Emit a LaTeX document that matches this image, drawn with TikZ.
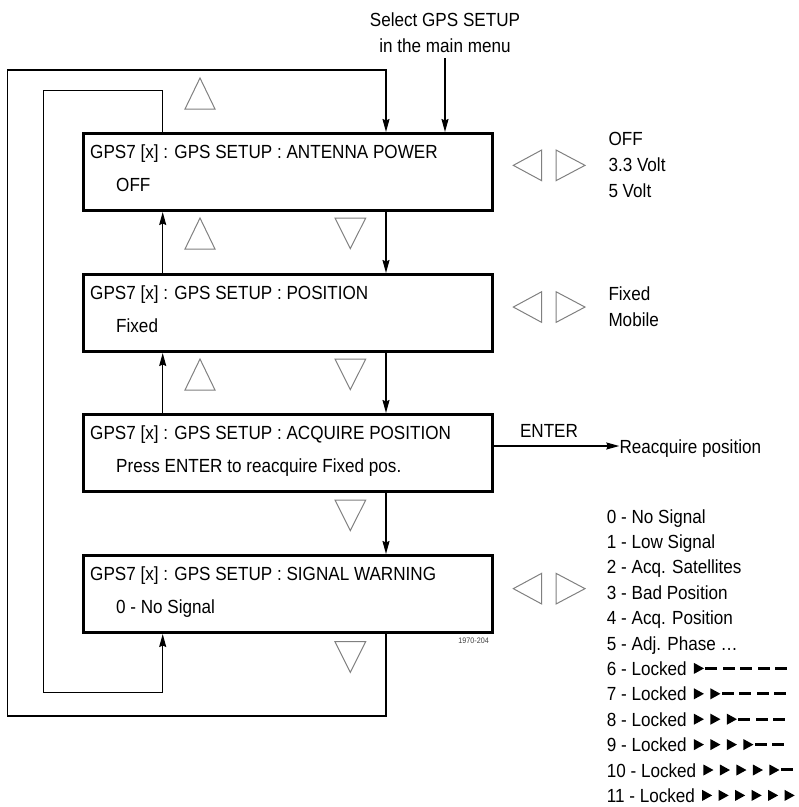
\documentclass[tikz,border=0pt]{standalone}
\usepackage{fontspec}
\setmainfont{Liberation Sans}[FakeStretch=0.9]
\usetikzlibrary{arrows.meta,calc}
\begin{document}
\begin{tikzpicture}[x=1pt,y=-1pt,
  menubox/.style={draw, line width=3pt, minimum width=409pt, minimum height=77pt, inner sep=0pt, anchor=north west},
  txt/.style={inner sep=0pt, anchor=base west, font=\fontsize{19}{23}\selectfont},
  ctxt/.style={inner sep=0pt, anchor=base, font=\fontsize{19}{23}\selectfont},
  conn/.style={line width=1.4pt, line join=miter},
  arr/.style={conn, -{Stealth[length=13pt,width=7pt,inset=1.5pt]}},
  navtri/.style={draw=black!50, line width=1pt, line join=miter},
]
\useasboundingbox (0,0) rectangle (799,807);

% boxes
\node[menubox] (b1) at (81.7,132) {};
\node[menubox] (b2) at (81.7,273) {};
\node[menubox] (b3) at (81.7,413) {};
\node[menubox] (b4) at (81.7,554) {};

% box texts
\node[txt] (b1a) at (90,158.3) {GPS7 [x] : GPS SETUP : ANTENNA POWER};
\node[txt] (b1b) at (116,191) {OFF};
\node[txt] (b2a) at (90,299.3) {GPS7 [x] : GPS SETUP : POSITION};
\node[txt] (b2b) at (116,332) {Fixed};
\node[txt] (b3a) at (90,439.3) {GPS7 [x] : GPS SETUP : ACQUIRE POSITION};
\node[txt] (b3b) at (116,472) {Press ENTER to reacquire Fixed pos.};
\node[txt] (b4a) at (90,580.3) {GPS7 [x] : GPS SETUP : SIGNAL WARNING};
\node[txt] (b4b) at (116,613) {0 - No Signal};

% entry label
\node[ctxt] (sel1) at (445,26.7) {Select GPS SETUP};
\node[ctxt] (sel2) at (445,52.5) {in the main menu};
\coordinate (sel) at (445,58);

% helper x positions
\coordinate (xL) at (162.7,0);
\coordinate (xR) at (386,0);

% connectors
\draw[arr] (sel) -- (sel |- b1.north);
\draw[arr] (xR |- b1.south) -- (xR |- b2.north);
\draw[arr] (xR |- b2.south) -- (xR |- b3.north);
\draw[arr] (xR |- b3.south) -- (xR |- b4.north);
\draw[arr] (xL |- b2.north) -- (xL |- b1.south);
\draw[arr] (xL |- b3.north) -- (xL |- b2.south);
\draw[arr] (xR |- b4.south) -- (386,716) -- (7.3,716) -- (7.3,70) -- (386,70) -- (xR |- b1.north);
\draw[arr] (xL |- b1.north) -- (162.7,90.7) -- (43.3,90.7) -- (43.3,692.7) -- (162.7,692.7) -- (xL |- b4.south);

% ENTER branch
\node[txt] (reacq) at (619.3,453.7) {Reacquire position};
\coordinate (ent) at (600,446);
\draw[arr] (b3.east |- ent) -- (reacq.west |- ent);
\node[ctxt] (enter) at (549,437) {ENTER};

% up / down navigation triangles
\foreach \y in {78,218,359} {
  \draw[navtri] (185,\y+31) -- (215,\y+31) -- (200,\y) -- cycle;
}
\foreach \y in {218,359,500,641.7} {
  \draw[navtri] (335,\y) -- (365.7,\y) -- (350.3,\y+30.7) -- cycle;
}
% left / right triangles
\foreach \y in {150,291.7,573.3} {
  \draw[navtri] (541.7,\y) -- (541.7,\y+30.7) -- (513.3,\y+15.35) -- cycle;
  \draw[navtri] (556,\y) -- (556,\y+30.7) -- (585,\y+15.35) -- cycle;
}

% option lists
\node[txt] (o1) at (608.3,145.3) {OFF};
\node[txt] (o2) at (608.3,171.3) {3.3 Volt};
\node[txt] (o3) at (608.3,197) {5 Volt};
\node[txt] (p1) at (608.3,300.3) {Fixed};
\node[txt] (p2) at (608.3,326) {Mobile};

\foreach \k/\t in {0/No Signal,1/Low Signal,2/Acq. Satellites,3/Bad Position,4/Acq. Position} {
  \node[txt] (s\k) at (606.7,{523+25.4*\k}) {\k{} - \t};
}
\node[txt] (s5) at (606.7,{523+25.4*5}) {5 - Adj. Phase \ldots};
\foreach \k in {6,...,11} {
  \node[txt] (s\k) at (606.7,{523+25.4*\k}) {\k{} - Locked};
  \pgfmathtruncatemacro\nfill{\k-5}
  \begin{scope}[shift={(s\k.base east)}]
    \foreach \i in {0,...,5} {
      \ifnum\i<\nfill
        \pgfmathsetmacro\xx{7+16.5*\i}
        \fill (\xx,-12.5) -- (\xx+10,-7) -- (\xx,-1.5) -- cycle;
      \else
        \pgfmathsetmacro\xx{7+16.5*\nfill-5+17.5*(\i-\nfill)}
        \fill (\xx,-8.6) rectangle (\xx+12,-5.6);
      \fi
    }
  \end{scope}
}

\node[inner sep=0pt, anchor=base east, font=\fontsize{8}{9}\selectfont, text=black!75] (fig) at (489,643.5) {1970-204};
\end{tikzpicture}
\end{document}
